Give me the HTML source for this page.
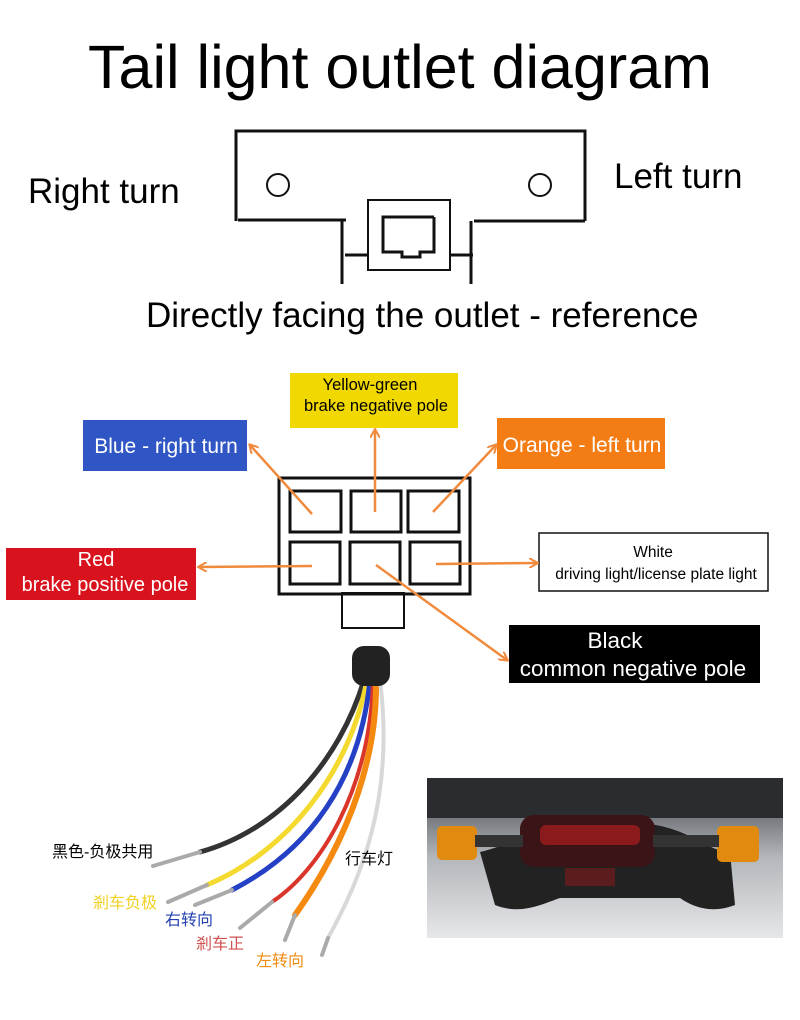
<!DOCTYPE html>
<html><head><meta charset="utf-8"><style>
body{margin:0;background:#fff;width:800px;height:1020px;overflow:hidden}
svg{display:block}
text{font-family:"Liberation Sans","Noto Sans CJK SC",sans-serif}
</style></head><body>
<svg width="800" height="1020" viewBox="0 0 800 1020" xmlns="http://www.w3.org/2000/svg">
<defs>
<marker id="ah" markerWidth="10" markerHeight="10" refX="8" refY="5" orient="auto" markerUnits="userSpaceOnUse">
<path d="M0,0 L9,5 L0,10" fill="none" stroke="#f08a3c" stroke-width="2"/></marker>
<linearGradient id="ph" x1="0" y1="0" x2="0" y2="1"><stop offset="0" stop-color="#3a3d42"/><stop offset="0.5" stop-color="#b4b7bb"/><stop offset="1" stop-color="#e6e7e9"/></linearGradient>
</defs>
<text x="400" y="88" font-size="61" text-anchor="middle">Tail light outlet diagram</text>
<g fill="none" stroke="#111" stroke-width="3">
<path d="M236,221 L236,131 L585,131 L585,221"/>
<path d="M238,220 L346,220 M474,221 L585,221"/>
<path d="M342,221 L342,284 M471,221 L471,284"/>
<path d="M345,255 L368,255 M450,255 L473,255"/>
<circle cx="278" cy="185" r="11" stroke-width="2"/>
<circle cx="540" cy="185" r="11" stroke-width="2"/>
<rect x="368" y="200" width="82" height="70" stroke-width="2"/>
<path d="M434,217 L383,217 L383,252 L402,252 L402,257 L420,257 L420,252 L434,252 L434,217"/>
</g>
<text x="28" y="203" font-size="35">Right turn</text>
<text x="614" y="188" font-size="35">Left turn</text>
<text x="146" y="327" font-size="35">Directly facing the outlet - reference</text>

<g fill="none" stroke="#111" stroke-width="3">
<rect x="279" y="478" width="191" height="116"/>
<rect x="290" y="491" width="51" height="41"/>
<rect x="351" y="491" width="50" height="41"/>
<rect x="408" y="491" width="51" height="41"/>
<rect x="290" y="542" width="50" height="42"/>
<rect x="350" y="542" width="50" height="42"/>
<rect x="410" y="542" width="50" height="42"/>
<rect x="342" y="593" width="62" height="35" stroke-width="2"/>
</g>
<rect x="290" y="373" width="168" height="55" fill="#f0d800"/>
<text x="370" y="390" font-size="16.5" text-anchor="middle">Yellow-green</text>
<text x="376" y="411" font-size="16.5" text-anchor="middle">brake negative pole</text>
<rect x="83" y="420" width="164" height="51" fill="#2f56c4"/>
<text x="166" y="453" font-size="21" text-anchor="middle" fill="#fff">Blue - right turn</text>
<rect x="497" y="418" width="168" height="51" fill="#f47c14"/>
<text x="582" y="452" font-size="21" text-anchor="middle" fill="#fff">Orange - left turn</text>
<rect x="6" y="548" width="190" height="52" fill="#d9131e"/>
<text x="96" y="566" font-size="20" text-anchor="middle" fill="#fff">Red</text>
<text x="105" y="591" font-size="20" text-anchor="middle" fill="#fff">brake positive pole</text>
<rect x="539" y="533" width="229" height="58" fill="#fff" stroke="#111" stroke-width="1.5"/>
<text x="653" y="557" font-size="15.5" text-anchor="middle">White</text>
<text x="656" y="579" font-size="15.5" text-anchor="middle">driving light/license plate light</text>
<rect x="509" y="625" width="251" height="58" fill="#000"/>
<text x="615" y="648" font-size="22.5" text-anchor="middle" fill="#fff">Black</text>
<text x="633" y="676" font-size="22.5" text-anchor="middle" fill="#fff">common negative pole</text>
<g stroke="#f08a3c" stroke-width="2.5" fill="none" marker-end="url(#ah)">
<path d="M375,512 L375,430"/>
<path d="M312,514 L250,445"/>
<path d="M433,512 L496,445"/>
<path d="M312,566 L199,567"/>
<path d="M436,564 L537,563"/>
<path d="M376,565 L507,660"/>
</g>

<g fill="none" stroke-linecap="round">
<path d="M364,680 C340,760 280,830 200,852" stroke="#333" stroke-width="5"/>
<path d="M367,680 C350,770 290,850 207,885" stroke="#f4d92e" stroke-width="5"/>
<path d="M370,680 C360,780 310,850 232,890" stroke="#2440c4" stroke-width="5"/>
<path d="M373,680 C370,790 320,870 272,902" stroke="#d9352a" stroke-width="4"/>
<path d="M376,680 C378,790 320,880 295,915" stroke="#f48a10" stroke-width="6"/>
<path d="M380,680 C395,800 360,880 328,938" stroke="#d8d8d8" stroke-width="4"/>
</g>
<g stroke="#aaa" stroke-width="4" stroke-linecap="round">
<path d="M200,852 L153,866"/><path d="M207,885 L168,902"/><path d="M232,890 L195,905"/>
<path d="M272,902 L240,928"/><path d="M295,915 L285,940"/><path d="M328,938 L322,955"/>
</g>
<rect x="352" y="646" width="38" height="40" rx="12" fill="#222"/>
<text x="52" y="857" font-size="16">黑色-负极共用</text>
<text x="345" y="864" font-size="16">行车灯</text>
<text x="93" y="908" font-size="16" fill="#f0d020">剎车负极</text>
<text x="165" y="925" font-size="16" fill="#2440b0">右转向</text>
<text x="196" y="949" font-size="16" fill="#d05050">剎车正</text>
<text x="256" y="966" font-size="16" fill="#f08a10">左转向</text>

<rect x="427" y="778" width="356" height="160" fill="url(#ph)"/>
<rect x="427" y="778" width="356" height="40" fill="#2a2c30"/>
<path d="M480,852 C510,845 560,820 620,822 C690,822 700,850 730,852 L735,905 C710,915 690,905 680,898 L560,898 C540,905 520,915 495,905 Z" fill="#222"/>
<rect x="520" y="815" width="135" height="52" rx="14" fill="#3a1416"/>
<rect x="540" y="825" width="100" height="20" rx="6" fill="#8a1a1c"/>
<rect x="565" y="868" width="50" height="18" fill="#5a1c1c"/>
<rect x="437" y="826" width="40" height="34" rx="5" fill="#e08a10"/>
<rect x="717" y="826" width="42" height="36" rx="5" fill="#e08a10"/>
<rect x="475" y="835" width="48" height="12" fill="#333"/>
<rect x="653" y="835" width="66" height="12" fill="#333"/>
</svg>
</body></html>
